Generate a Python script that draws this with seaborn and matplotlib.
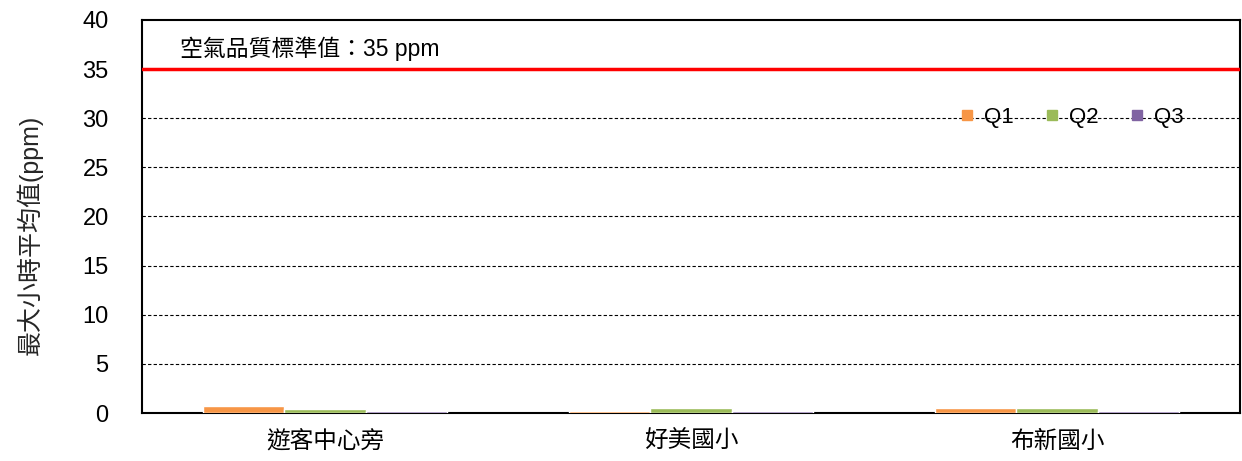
import matplotlib
matplotlib.use("Agg")
import matplotlib.pyplot as plt
import seaborn as sns
import pandas as pd
from matplotlib.lines import Line2D

sites = ["遊客中心旁", "好美國小", "布新國小"]
quarters = ["Q1", "Q2", "Q3"]
q1 = [0.75, 0.2, 0.48]
q2 = [0.38, 0.5, 0.48]
q3 = [0.25, 0.25, 0.25]
colors = ["#F79646", "#9BBB59", "#8064A2"]
standard = 35
std_label = "空氣品質標準值：35 ppm"
ylabel = "最大小時平均值(ppm)"

sns.set_theme(style="white")
plt.rcParams['font.family'] = ['Liberation Sans', 'Noto Sans CJK TC', 'DejaVu Sans']

rows = []
for s, a, b, c in zip(sites, q1, q2, q3):
    rows += [(s, "Q1", a), (s, "Q2", b), (s, "Q3", c)]
df = pd.DataFrame(rows, columns=["site", "quarter", "value"])

fig = plt.figure(figsize=(12.42, 4.61), dpi=100)
ax = fig.add_axes([0.1143, 48 / 461, 0.8841, 393 / 461])
sns.barplot(data=df, x="site", y="value", hue="quarter", palette=colors,
            width=0.665, ax=ax, saturation=1, legend=False)
for p in ax.patches:
    p.set_zorder(3)

ax.set_ylim(0, 40)
ax.set_xlim(-0.5, 2.5)
ax.set_yticks(range(0, 41, 5))
for y in range(5, 35, 5):
    ax.axhline(y, color="black", lw=0.8, ls=(0, (3, 2)), zorder=0)
ax.axhline(standard, color="#FF0000", lw=2.5, zorder=3)
ax.text(0.035, 0.928, std_label, transform=ax.transAxes, fontsize=16.5,
        ha="left", va="center", color="black")

for sp in ax.spines.values():
    sp.set_visible(True)
    sp.set_color("black")
    sp.set_linewidth(1.5)
ax.spines["bottom"].set_zorder(2.5)

ax.tick_params(axis="y", labelsize=17, length=0, pad=24, colors="black")
ax.tick_params(axis="x", labelsize=17, length=0, pad=13, colors="black")
ax.set_xticks([0.5, 1.5], minor=True)
ax.tick_params(axis="x", which="minor", direction="in", length=6, width=1, color="black")
ax.set_xlabel("")
ax.set_ylabel(ylabel, fontsize=18)
ax.yaxis.set_label_coords(-0.09, 0.453)

handles = [Line2D([], [], marker="s", ls="", color=c, markersize=7.5) for c in colors]
leg = ax.legend(handles, quarters, ncol=3, loc="center", bbox_to_anchor=(0.847, 0.7526),
                frameon=False, fontsize=16, handlelength=0.6, handletextpad=0.45,
                columnspacing=1.45)
for t in leg.get_texts():
    t.set_color("black")

fig.savefig("out.png", dpi=100)
